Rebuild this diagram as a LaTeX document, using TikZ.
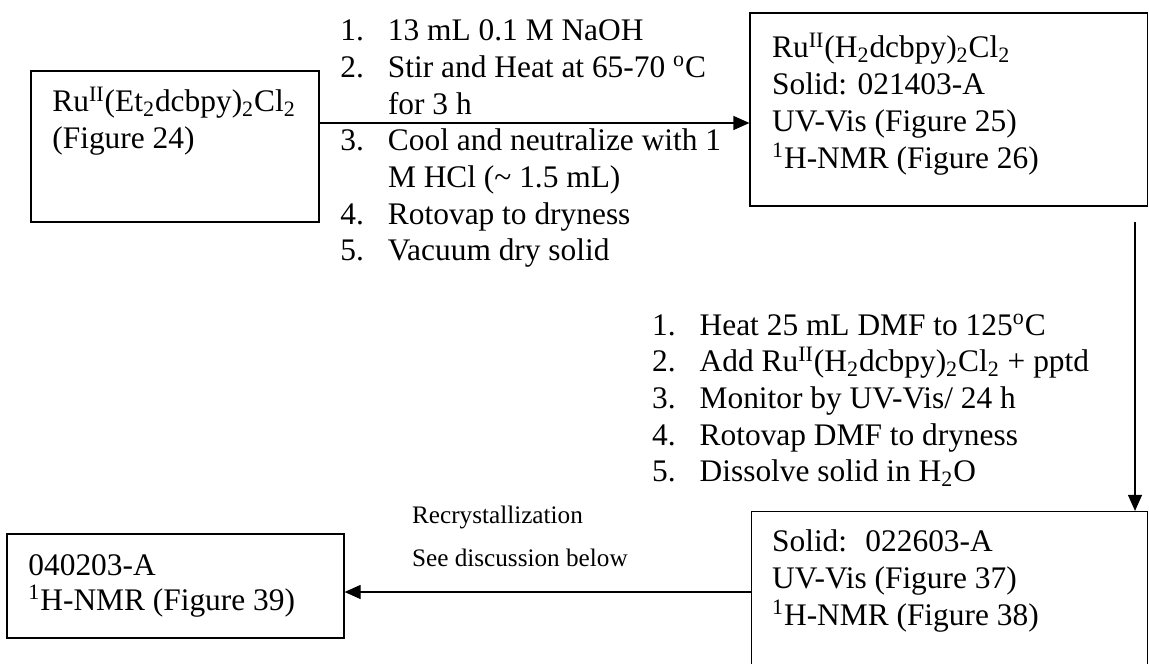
\documentclass[tikz,border=0pt]{standalone}
\usepackage{fontspec}
\setmainfont{Liberation Serif}
\usepackage{tikz}
\usetikzlibrary{arrows.meta}
\newcommand{\stepno}[1]{\makebox[23.8pt][l]{#1}}
\newcommand{\RuII}{Ru\textsuperscript{II}}

\begin{document}
\begin{tikzpicture}[x=0.5pt,y=-0.5pt,box/.style 2 args={draw,rectangle,line width=0.6pt,inner sep=0pt,minimum width=#1*0.5pt,minimum height=#2*0.5pt},txt/.style={anchor=base west,inner sep=0pt,font=\fontsize{15.7}{18.35}\selectfont},small/.style={txt,font=\fontsize{12.6}{18.35}\selectfont},arr/.style={line width=0.6pt,-{Triangle[length=8pt,width=7pt]}}]
\useasboundingbox (0,0) rectangle (1149,663);
\clip (0,0) rectangle (1149,663);
\node[box={288}{151}](a) at (175,146.5) {};
\node[box={397.5}{193}](b) at (948.75,109.5) {};
\node[box={396}{188.5}](c) at (949.5,605.75) {};
\node[box={337}{104}](d) at (175.5,586) {};
\node[txt](ta) at (52,112) {\begin{tabular}[t]{@{}l@{}}
   \RuII(Et\textsubscript{2}dcbpy)\textsubscript{2}Cl\textsubscript{2}\\
   (Figure 24)\end{tabular}};
\node[txt](tb) at (771.7,58) {\begin{tabular}[t]{@{}l@{}}
   \RuII(H\textsubscript{2}dcbpy)\textsubscript{2}Cl\textsubscript{2}\\
   Solid: 021403-A\\
   UV-Vis (Figure 25)\\
   \textsuperscript{1}H-NMR (Figure 26)\end{tabular}};
\node[txt](tc) at (771.7,551.7) {\begin{tabular}[t]{@{}l@{}}
   Solid: \ 022603-A\\
   UV-Vis (Figure 37)\\
   \textsuperscript{1}H-NMR (Figure 38)\end{tabular}};
\node[txt](td) at (28,575) {\begin{tabular}[t]{@{}l@{}}
   040203-A\\[-0.8pt]
   \textsuperscript{1}H-NMR (Figure 39)\end{tabular}};
\node[txt](s1) at (340,40.7) {\begin{tabular}[t]{@{}l@{}}
   \stepno{1.}13 mL 0.1 M NaOH\\
   \stepno{2.}Stir and Heat at 65-70 \textsuperscript{o}C\\
   \stepno{}for 3 h\\
   \stepno{3.}Cool and neutralize with 1\\
   \stepno{}M HCl (\textasciitilde{} 1.5 mL)\\
   \stepno{4.}Rotovap to dryness\\
   \stepno{5.}Vacuum dry solid\end{tabular}};
\node[txt](s2) at (651.7,335) {\begin{tabular}[t]{@{}l@{}}
   \stepno{1.}Heat 25 mL DMF to 125\textsuperscript{o}C\\
   \stepno{2.}Add \RuII(H\textsubscript{2}dcbpy)\textsubscript{2}Cl\textsubscript{2} + pptd\\
   \stepno{3.}Monitor by UV-Vis/ 24 h\\
   \stepno{4.}Rotovap DMF to dryness\\
   \stepno{5.}Dissolve solid in H\textsubscript{2}O\end{tabular}};
\node[small](rc) at (411.7,523.5) {\begin{tabular}[t]{@{}l@{}}
   Recrystallization\\[3.2pt]
   See discussion below\end{tabular}};
\coordinate (ab) at (0,123);
\coordinate (bc) at (1135,222);
\coordinate (cd) at (0,592);
\draw[arr] (a.east |- ab) -- (b.west |- ab);
\draw[arr] (bc) -- (c.north -| bc);
\draw[arr] (c.west |- cd) -- (d.east |- cd);
\end{tikzpicture}
\end{document}
